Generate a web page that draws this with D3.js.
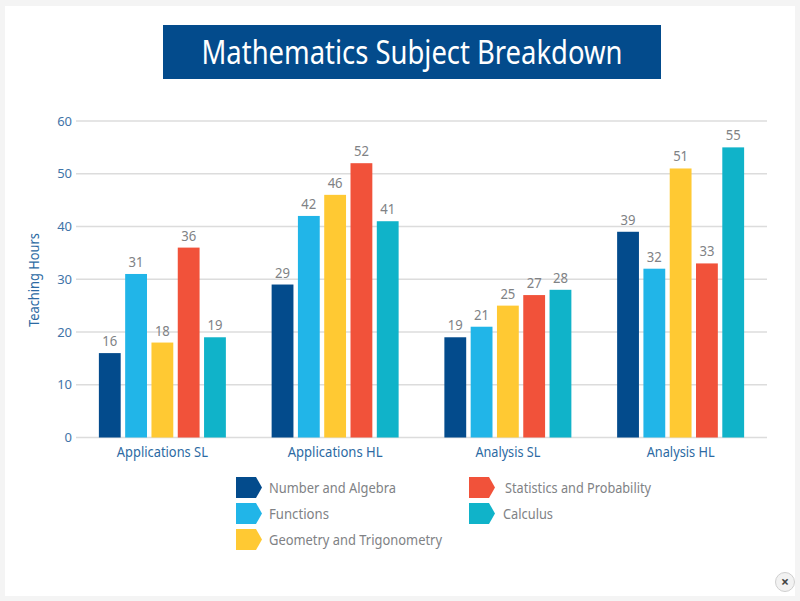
<!DOCTYPE html>
<html><head><meta charset="utf-8">
<style>html,body{margin:0;padding:0;background:#f4f4f4}svg{display:block}text{font-family:"Noto Sans",sans-serif}</style>
<script src="https://cdn.jsdelivr.net/npm/d3@7"></script></head><body>
<svg id="c" width="800" height="601"></svg>
<script>
const categories=["Applications SL","Applications HL","Analysis SL","Analysis HL"];
const seriesNames=["Number and Algebra","Functions","Geometry and Trigonometry","Statistics and Probability","Calculus"];
const numberAlgebra=[16,29,19,39];
const functionsVals=[31,42,21,32];
const geometryTrig=[18,46,25,51];
const statsProb=[36,52,27,33];
const calculus=[19,41,28,55];
const allSeries=[numberAlgebra,functionsVals,geometryTrig,statsProb,calculus];
const colors=["#034b8c","#21b5e8","#ffc933","#f1523a","#10b3c9"];
const yTicks=[0,10,20,30,40,50,60];
const titleText="Mathematics Subject Breakdown";
const yLabel="Teaching Hours";

const svg=d3.select("#c");
svg.append("rect").attr("x",5).attr("y",6).attr("width",790).attr("height",590).attr("fill","#fff");
svg.append("rect").attr("x",163).attr("y",25).attr("width",498).attr("height",54).attr("fill","#034b8c");
svg.append("text").attr("x",412).attr("y",64).attr("text-anchor","middle").attr("fill","#fff")
  .attr("font-size",33).attr("textLength",421).attr("lengthAdjust","spacingAndGlyphs").text(titleText);

const x0=d3.scaleBand().domain(categories).range([76,767]);
const x1=d3.scaleBand().domain(d3.range(5)).range([-63.5,63.5]).paddingInner(0.17).paddingOuter(0);
const y=d3.scaleLinear().domain([0,60]).range([437.5,121]);

const grid=svg.append("g");
grid.selectAll("line").data(yTicks).join("line")
  .attr("x1",76).attr("x2",767).attr("y1",d=>y(d)).attr("y2",d=>y(d))
  .attr("stroke","#dcdcdc").attr("stroke-width",1.5);
svg.append("g").selectAll("text").data(yTicks).join("text")
  .attr("x",72).attr("y",d=>y(d)+4.5).attr("text-anchor","end").attr("fill","#3f74a8").attr("font-size",13).text(d=>d);
svg.append("text").attr("transform","translate(39,280) rotate(-90)").attr("text-anchor","middle")
  .attr("fill","#2c6aa3").attr("font-size",15).attr("textLength",94).attr("lengthAdjust","spacingAndGlyphs").text(yLabel);

const catWidths=[91,95,65,68];
const groups=svg.append("g").selectAll("g").data(categories).join("g")
  .attr("transform",c=>`translate(${x0(c)+x0.bandwidth()/2},0)`);
groups.each(function(c,ci){
  const g=d3.select(this);
  const rows=allSeries.map((s,i)=>({i,v:s[ci]}));
  g.selectAll("rect").data(rows).join("rect")
    .attr("x",d=>x1(d.i)).attr("width",x1.bandwidth())
    .attr("y",d=>y(d.v)).attr("height",d=>y(0)-y(d.v)).attr("fill",d=>colors[d.i]);
  g.selectAll("text.v").data(rows).join("text").attr("class","v")
    .attr("x",d=>x1(d.i)+x1.bandwidth()/2).attr("y",d=>y(d.v)-7)
    .attr("text-anchor","middle").attr("fill","#808285").attr("font-size",15)
    .attr("textLength",15).attr("lengthAdjust","spacingAndGlyphs").text(d=>d.v);
  g.append("text").attr("y",457).attr("text-anchor","middle").attr("fill","#2c6aa3")
    .attr("font-size",15).attr("textLength",catWidths[ci]).attr("lengthAdjust","spacingAndGlyphs").text(c);
});

const legendCols=[[236,269],[236,269],[236,269],[469,505],[469,503]];
const legendRows=[487.5,513.5,539.5,487.5,513.5];
const lengths=[127,60,173,146,50];
const leg=svg.append("g").selectAll("g").data(seriesNames).join("g");
leg.append("path").attr("fill",(d,i)=>colors[i]).attr("d",(d,i)=>{
  const [a]=legendCols[i],m=legendRows[i];
  return d3.line()([[a,m-10.5],[a+20,m-10.5],[a+26,m],[a+20,m+10.5],[a,m+10.5]])+"Z";
});
leg.append("text").attr("x",(d,i)=>legendCols[i][1]).attr("y",(d,i)=>legendRows[i]+5)
  .attr("fill","#808285").attr("font-size",14.5)
  .attr("textLength",(d,i)=>lengths[i]).attr("lengthAdjust","spacingAndGlyphs").text(d=>d);

const closeBtn=svg.append("g").attr("transform","translate(785,582)");
closeBtn.append("circle").attr("r",9.5).attr("fill","#f2f2f2").attr("stroke","#cfcfcf").attr("stroke-width",1);
closeBtn.append("text").attr("y",4.5).attr("text-anchor","middle").attr("font-size",14).attr("font-weight",700).attr("fill","#444").text("×");
</script></body></html>
